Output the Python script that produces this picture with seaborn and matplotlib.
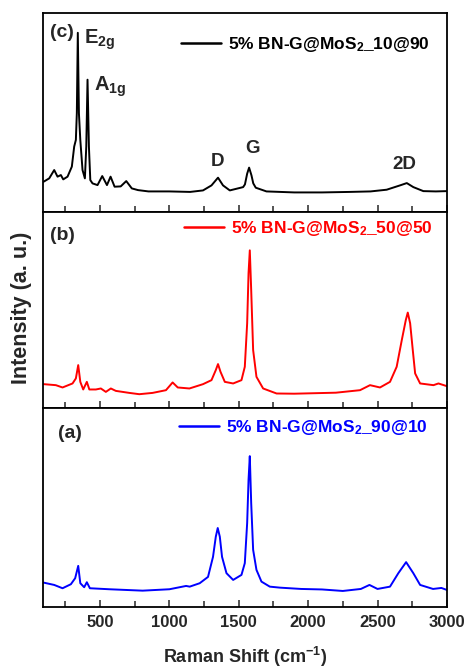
import matplotlib
matplotlib.use("Agg")
import matplotlib.pyplot as plt
import seaborn as sns
from matplotlib.ticker import MultipleLocator


# panel (c): 5% BN-G@MoS2_10@90
shift_c = [95, 135, 171, 195, 219, 236, 267, 298, 315, 327, 334, 341, 349, 359,
           375, 392, 402, 411, 421, 431, 447, 483, 517, 551, 577, 606, 650, 690,
           730, 775, 850, 1000, 1150, 1243, 1304, 1351, 1387, 1436, 1532, 1545,
           1561, 1575, 1592, 1605, 1623, 1700, 1900, 2100, 2300, 2450, 2566,
           2662, 2711, 2758, 2830, 2920, 3000]
intensity_c = [30.7, 34, 42.3, 35.7, 37.3, 33, 35.7, 45.7, 65.7, 72.3, 99, 179,
               99, 72.3, 42.3, 34, 65.7, 132.3, 65.7, 32.3, 29, 27.3, 36.3, 27.3,
               35.7, 25.7, 26, 31.3, 24, 22.3, 21, 21, 20.5, 22, 27, 34.7, 27, 22,
               25.3, 28, 38.7, 44.7, 37, 29, 24.7, 21, 20, 20, 20.5, 21, 22.7, 27,
               29.3, 25.3, 21.3, 21, 21.3]

# panel (b): 5% BN-G@MoS2_50@50
shift_b = [95, 183, 231, 303, 327, 344, 359, 380, 406, 424, 471, 507, 543, 579,
           615, 712, 784, 880, 976, 1024, 1061, 1145, 1243, 1304, 1335, 1351,
           1369, 1400, 1460, 1520, 1544, 1561, 1571, 1580, 1590, 1604, 1628,
           1676, 1773, 1900, 2050, 2200, 2374, 2446, 2518, 2590, 2638, 2675,
           2704, 2718, 2735, 2754, 2771, 2807, 2903, 2939, 3000]
intensity_b = [24, 23, 20.7, 24.7, 29.7, 43, 26.3, 18.7, 26.3, 18.7, 18.7, 19.7,
               16.3, 19.7, 17.3, 15.3, 14, 15.3, 18, 25.7, 20.7, 19.7, 24, 28, 38,
               44, 36.3, 26.3, 24.7, 28, 41.3, 84.7, 134.7, 157.3, 118, 58, 31.3,
               19.7, 14.7, 14.5, 15, 15.5, 18, 23, 20.7, 26.3, 41.3, 68, 88, 95.3,
               84.7, 58, 34.7, 24.7, 23, 24.7, 22]

# panel (a): 5% BN-G@MoS2_90@10
shift_a = [95, 171, 231, 291, 322, 344, 359, 387, 406, 428, 568, 808, 1001, 1121,
           1147, 1219, 1279, 1315, 1335, 1349, 1364, 1380, 1412, 1460, 1520,
           1544, 1561, 1571, 1580, 1590, 1604, 1628, 1664, 1724, 1797, 1950,
           2100, 2250, 2380, 2442, 2500, 2590, 2650, 2706, 2758, 2807, 2900,
           2960, 3000]
intensity_a = [24.3, 22, 18.7, 22.7, 28.7, 41, 23.7, 19.7, 24.7, 18.7, 17.7, 16.3,
               17.7, 21, 20.3, 23.7, 30, 50, 70, 78.7, 70, 50, 33.7, 27, 32, 43.7,
               83.7, 127, 150.3, 103.7, 57, 37, 25.3, 20.3, 19.3, 18, 17.5, 16, 18,
               22, 18, 20.3, 33.7, 44.7, 33.7, 22, 18, 19, 17]

labels = ["5% BN-G@MoS$_2$_10@90", "5% BN-G@MoS$_2$_50@50",
          "5% BN-G@MoS$_2$_90@10"]
panel_tags = ["(c)", "(b)", "(a)"]
colors = ["black", "red", "blue"]


def style_axis(ax, ymax):
    ax.set_xlim(90, 3000)
    ax.set_ylim(0, ymax)
    ax.set_yticks([])
    ax.set_xlabel("")
    ax.set_ylabel("")
    ax.xaxis.set_major_locator(MultipleLocator(500))
    ax.xaxis.set_minor_locator(MultipleLocator(250))
    ax.tick_params(axis="x", which="major", direction="in", length=5, width=1.1,
                   labelsize=12, pad=6)
    ax.tick_params(axis="x", which="minor", direction="in", length=4, width=1.1)
    for s in ax.spines.values():
        s.set_visible(True)
        s.set_linewidth(1.3)
        s.set_color("black")


def main():
    sns.set_style("ticks")
    plt.rcParams["font.family"] = ["Liberation Sans", "DejaVu Sans"]
    plt.rcParams["font.weight"] = "bold"
    plt.rcParams["mathtext.fontset"] = "custom"
    plt.rcParams["mathtext.rm"] = "Liberation Sans:bold"
    plt.rcParams["mathtext.bf"] = "Liberation Sans:bold"
    plt.rcParams["mathtext.default"] = "rm"

    fig = plt.figure(figsize=(4.67, 6.70), dpi=100)
    gs = fig.add_gridspec(3, 1, height_ratios=[199, 195, 198], hspace=0,
                          left=0.092, right=0.957, top=0.981, bottom=0.094)
    axes = [fig.add_subplot(gs[i]) for i in range(3)]

    data = [(shift_c, intensity_c, 199), (shift_b, intensity_b, 195),
            (shift_a, intensity_a, 198)]
    legend_pos = [(0.958, 0.839), (0.965, 0.918), (0.953, 0.904)]
    tag_pos = [(0.017, 0.90), (0.017, 0.885), (0.037, 0.871)]

    for i, ax in enumerate(axes):
        xs, ys, ymax = data[i]
        sns.lineplot(x=xs, y=ys, ax=ax, color=colors[i], linewidth=1.4,
                     label=labels[i], sort=False)
        style_axis(ax, ymax)
        leg = ax.legend(loc="center right", bbox_to_anchor=legend_pos[i],
                        frameon=False, fontsize=12.5, handlelength=2.3,
                        handletextpad=0.4, borderpad=0, borderaxespad=0,
                        labelcolor=colors[i])
        leg.get_lines()[0].set_linewidth(1.8)
        ax.text(tag_pos[i][0], tag_pos[i][1], panel_tags[i],
                transform=ax.transAxes, fontsize=14, fontweight="bold",
                ha="left", va="center")
        if i < 2:
            ax.tick_params(axis="x", labelbottom=False)

    # peak labels on the top panel
    top = axes[0]
    top.text(385, 168, "E$_{2g}$", fontsize=14.5, ha="left", va="baseline")
    top.text(460, 121, "A$_{1g}$", fontsize=14.5, ha="left", va="baseline")
    top.text(1346, 51, "D", fontsize=13.5, ha="center", va="center")
    top.text(1598, 64, "G", fontsize=13.5, ha="center", va="center")
    top.text(2691, 48, "2D", fontsize=13.5, ha="center", va="center")

    fig.text(0.047, 0.54, "Intensity (a. u.)", rotation=90, fontsize=15.5,
             fontweight="bold", ha="center", va="center")
    fig.text(0.525, 0.02, "Raman Shift (cm$^{-1}$)", fontsize=13,
             fontweight="bold", ha="center", va="center")

    fig.savefig("out.png", dpi=100)


if __name__ == "__main__":
    main()
